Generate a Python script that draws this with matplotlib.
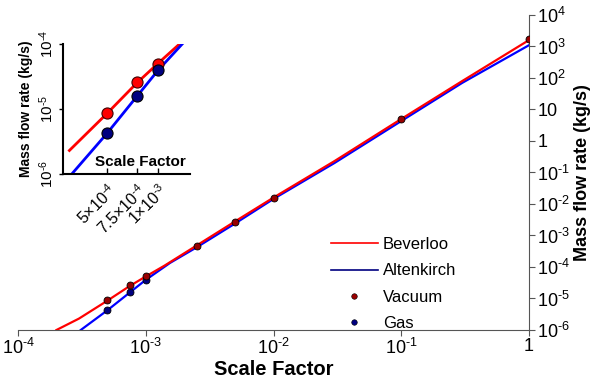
import numpy as np
import matplotlib
matplotlib.use("Agg")
import matplotlib.pyplot as plt
from matplotlib.lines import Line2D

plt.rcParams["font.family"] = ["Liberation Sans", "DejaVu Sans"]
plt.rcParams["mathtext.fontset"] = "custom"
plt.rcParams["mathtext.rm"] = "Liberation Sans"
plt.rcParams["mathtext.it"] = "Liberation Sans:italic"
plt.rcParams["mathtext.bf"] = "Liberation Sans:bold"

# model curves
bev_scale = [2.0e-4, 3.0e-4, 5.0e-4, 7.5e-4, 1.0e-3, 1.4e-3, 2.5e-3, 5.0e-3, 1.0e-2, 3.0e-2, 1.0e-1, 3.0e-1, 1.0]
bev_flow = [1.0e-6, 2.3e-6, 8.5e-6, 2.5e-5, 5.0e-5, 1.1e-4, 4.8e-4, 2.8e-3, 1.6e-2, 2.3e-1, 5.0, 8.0e1, 1.6e3]
alt_scale = [3.1e-4, 5.0e-4, 7.5e-4, 1.0e-3, 1.55e-3, 2.5e-3, 5.0e-3, 1.0e-2, 3.0e-2, 1.0e-1, 3.0e-1, 1.0]
alt_flow = [1.0e-6, 4.2e-6, 1.55e-5, 3.9e-5, 1.35e-4, 4.2e-4, 2.4e-3, 1.45e-2, 2.0e-1, 4.3, 7.0e1, 1.1e3]

# simulation points
vac_scale = [5e-4, 7.5e-4, 1e-3, 2.5e-3, 5e-3, 1e-2, 1e-1, 1.0]
vac_flow = [8.8e-6, 2.6e-5, 5.0e-5, 4.7e-4, 2.7e-3, 1.55e-2, 5.0, 1.7e3]
gas_scale = [5e-4, 7.5e-4, 1e-3]
gas_flow = [4.2e-6, 1.57e-5, 4.0e-5]

x_ticks = [1e-4, 1e-3, 1e-2, 1e-1, 1]
x_labels = [r"$10^{\text{-}4}$", r"$10^{\text{-}3}$", r"$10^{\text{-}2}$", r"$10^{\text{-}1}$", "1"]
y_ticks = [1e-6, 1e-5, 1e-4, 1e-3, 1e-2, 1e-1, 1, 10, 1e2, 1e3, 1e4]
y_labels = [r"$10^{\text{-}6}$", r"$10^{\text{-}5}$", r"$10^{\text{-}4}$", r"$10^{\text{-}3}$",
            r"$10^{\text{-}2}$", r"$10^{\text{-}1}$", "1", "10", "$10^{2}$", "$10^{3}$", "$10^{4}$"]
inset_x_ticks = [5e-4, 7.5e-4, 1e-3]
inset_x_labels = [r"$5{\times}10^{\text{-}4}$", r"$7.5{\times}10^{\text{-}4}$", r"$1{\times}10^{\text{-}3}$"]
inset_y_ticks = [1e-6, 1e-5, 1e-4]
inset_y_labels = [r"$10^{\text{-}6}$", r"$10^{\text{-}5}$", r"$10^{\text{-}4}$"]

red = "#ff0000"
blue = "#0000ff"
dark_red = "#990000"
navy = "#000080"

fig = plt.figure(figsize=(5.98, 3.89), dpi=100)

# main axes
ax = fig.add_axes([18 / 598, 1 - 330 / 389, 511 / 598, 315 / 389])
ax.plot(bev_scale, bev_flow, color=red, lw=1.6, zorder=3)
ax.plot(alt_scale, alt_flow, color=blue, lw=1.6, zorder=2)
ax.plot(gas_scale, gas_flow, "o", ms=5, color=navy, mec="black", mew=0.6, zorder=4)
ax.plot(vac_scale, vac_flow, "o", ms=5, color=dark_red, mec="black", mew=0.6, zorder=5)
ax.set_xscale("log")
ax.set_yscale("log")
ax.set_xlim(1e-4, 1)
ax.set_ylim(1e-6, 1e4)
ax.set_xticks(x_ticks)
ax.set_xticklabels(x_labels, fontsize=13)
ax.set_yticks(y_ticks)
ax.set_yticklabels(y_labels, fontsize=13)
ax.minorticks_off()
ax.yaxis.tick_right()
ax.yaxis.set_label_position("right")
for s in ["left", "top"]:
    ax.spines[s].set_visible(False)
for s in ["bottom", "right"]:
    ax.spines[s].set_color("#555555")
ax.tick_params(axis="both", direction="out", length=4, color="#555555", pad=2)
ax.set_xlabel("Scale Factor", fontsize=14.5, fontweight="bold", labelpad=1)
ax.set_ylabel("Mass flow rate (kg/s)", fontsize=13, fontweight="bold", labelpad=3)
ax.patch.set_alpha(0)

handles = [
    Line2D([], [], color=red, lw=1.2),
    Line2D([], [], color=navy, lw=1.2),
    Line2D([], [], ls="none", marker="o", ms=4, color=dark_red, mec="black", mew=0.4),
    Line2D([], [], ls="none", marker="o", ms=4, color=navy, mec="black", mew=0.4),
]
fig.legend(handles, ["Beverloo", "Altenkirch", "Vacuum", "Gas"], loc="upper left",
           bbox_to_anchor=(316 / 598, 1 - 222 / 389), frameon=False, fontsize=12,
           labelspacing=0.68, handlelength=2.8, handletextpad=0.3)

# inset
iax = fig.add_axes([63 / 598, 1 - 174 / 389, 127 / 598, 130 / 389])
iax.plot(bev_scale[1:], bev_flow[1:], color=red, lw=2, zorder=2)
iax.plot(alt_scale, alt_flow, color=blue, lw=2, zorder=2)
iax.plot(vac_scale, vac_flow, "o", ms=8, color=red, mec="#400000", mew=0.8, zorder=4)
iax.plot(gas_scale, gas_flow, "o", ms=8, color=navy, mec="black", mew=0.8, zorder=4)
iax.set_xscale("log")
iax.set_yscale("log")
iax.set_xlim(2.75e-4, 1.55e-3)
iax.set_ylim(1e-6, 1e-4)
iax.minorticks_off()
iax.set_xticks(inset_x_ticks)
iax.set_xticklabels(inset_x_labels, fontsize=11.5, rotation=45, ha="right", va="top",
                    rotation_mode="anchor")
iax.set_yticks(inset_y_ticks)
iax.set_yticklabels(inset_y_labels, fontsize=11, rotation=90, va="center")
iax.minorticks_off()
for s in ["right", "top"]:
    iax.spines[s].set_visible(False)
for s in ["left", "bottom"]:
    iax.spines[s].set_linewidth(1.5)
iax.tick_params(axis="x", direction="in", length=4, width=1, pad=5)
iax.tick_params(axis="y", direction="out", length=3, width=1, pad=2)
iax.set_ylabel("Mass flow rate (kg/s)", fontsize=10, fontweight="bold", labelpad=3)
iax.text(0.97, 0.04, "Scale Factor", transform=iax.transAxes, ha="right", va="bottom",
         fontsize=11, fontweight="bold")

fig.savefig("out.png", dpi=100)
